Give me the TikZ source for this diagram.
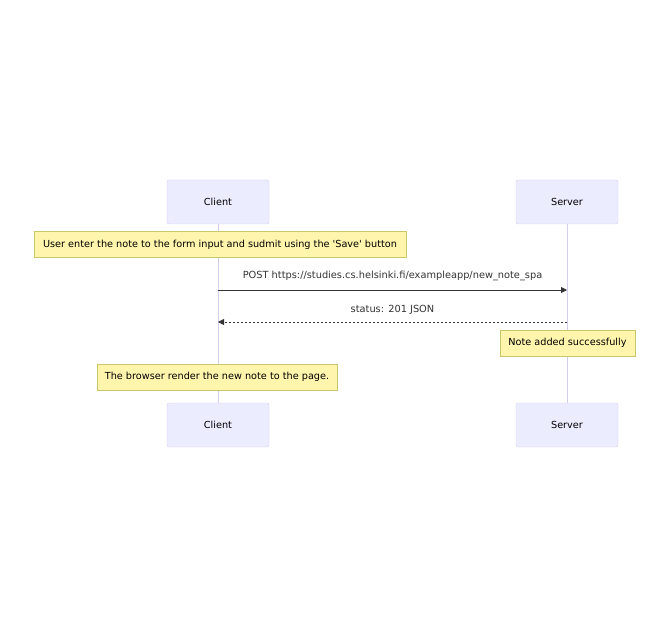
\documentclass[tikz,border=0pt]{standalone}
\usepackage{fontspec}
\setmainfont{DejaVu Sans}[Ligatures=TeXOff]
\usetikzlibrary{arrows.meta}
\definecolor{actorfill}{HTML}{ECECFF}
\definecolor{actorline}{HTML}{D6CCF2}
\definecolor{notefill}{HTML}{FFF5AD}
\definecolor{noteline}{HTML}{C8C86A}
\definecolor{msgline}{HTML}{333333}
\tikzset{
  actor/.style={draw=actorline, fill=actorfill, rounded corners=2pt, minimum width=102pt, minimum height=44pt, inner sep=0pt, font=\fontsize{9.7}{11}\selectfont},
  note/.style={draw=noteline, fill=notefill, minimum height=26pt, inner sep=0pt, font=\fontsize{9.7}{11}\selectfont},
  lifeline/.style={draw=actorline, line width=0.8pt},
  msg/.style={draw=msgline, line width=0.8pt, -{Triangle[length=6pt,width=6pt]}},
  label/.style={inner sep=0pt, font=\fontsize{9.8}{11}\selectfont, text=msgline}
}
\begin{document}
\begin{tikzpicture}[x=1pt, y=-1pt]
    \useasboundingbox (0,0) rectangle (669,628);
    % participants
    \node[actor] (clientTop) at (218,202) {Client};
    \node[actor] (serverTop) at (567,202) {Server};
    \node[actor] (clientBot) at (218,425) {Client};
    \node[actor] (serverBot) at (567,425) {Server};
    \draw[lifeline] (clientTop.south) -- (clientBot.north);
    \draw[lifeline] (serverTop.south) -- (serverBot.north);
    % notes
    \node[note, minimum width=372pt] (noteSave) at (220,244.5) {User enter the note to the form input and sudmit using the 'Save' button};
    \node[note, minimum width=135pt] (noteAdded) at (567.5,343) {Note added successfully};
    \node[note, minimum width=240pt] (noteRender) at (217,377) {The browser render the new note to the page.};
    % messages
    \coordinate (postFrom) at (218,290);
    \coordinate (postTo) at (567,290);
    \coordinate (jsonFrom) at (567,322);
    \coordinate (jsonTo) at (218,322);
    \draw[msg] (postFrom) -- (postTo);
    \node[label] (postLabel) at (392.5,276) {POST https://studies.cs.helsinki.fi/exampleapp/new\_note\_spa};
    \draw[msg, dash pattern=on 2pt off 2pt] (jsonFrom) -- (jsonTo);
    \node[label] (jsonLabel) at (392.5,310) {status: 201 JSON};
\end{tikzpicture}
\end{document}
